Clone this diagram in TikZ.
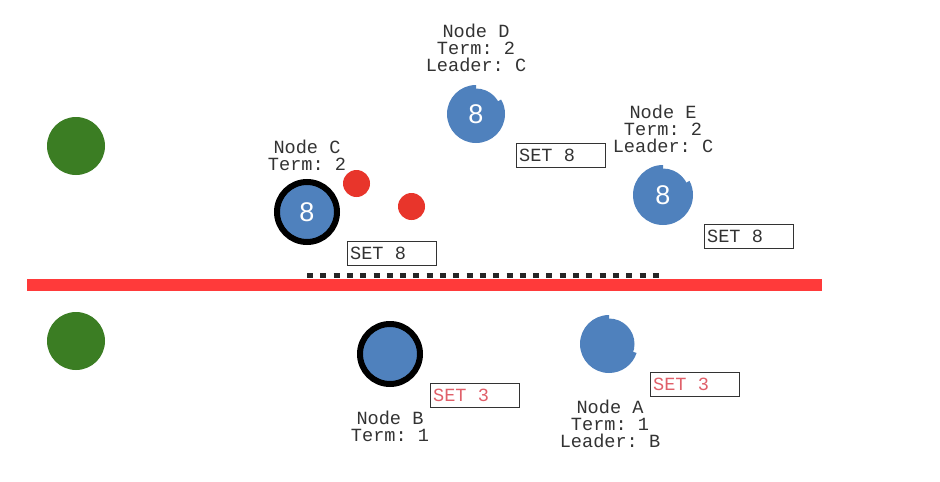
\documentclass[tikz,border=0pt]{standalone}
\usepackage{fontspec}
\setmainfont{Liberation Mono}
\newfontfamily\digitfont{Liberation Sans}
\definecolor{nodeblue}{HTML}{4F81BD}
\definecolor{nodegreen}{HTML}{3B7D23}
\definecolor{msgred}{HTML}{E8352B}
\definecolor{linered}{HTML}{FF3A3A}
\definecolor{setred}{HTML}{E0606A}
\begin{document}
\frenchspacing
\begin{tikzpicture}[x=1pt,y=1pt,
  lbl/.style={align=center,inner sep=0pt,text=black!80,font=\frenchspacing\fontsize{18.6}{17}\selectfont},
  setbox/.style={draw=black!80,line width=1.3pt,minimum width=89pt,minimum height=24pt,inner sep=2.5pt,anchor=north west,font=\frenchspacing\fontsize{18.6}{17}\selectfont,text=black!80},
  redset/.style={setbox,text=setred},
  leaderc/.style={circle,fill=nodeblue,draw=black,line width=6pt,minimum size=60pt,inner sep=0pt,text=white,font=\digitfont\fontsize{27}{27}\selectfont},
  follower/.style={circle,fill=nodeblue,minimum size=52pt,inner sep=0pt,text=white,font=\digitfont\fontsize{27}{27}\selectfont},
  greendot/.style={circle,fill=nodegreen,minimum size=58pt,inner sep=0pt},
  reddot/.style={circle,fill=msgred,minimum size=27pt,inner sep=0pt}]
\useasboundingbox[fill=white] (0,0) rectangle (940,-482);

% green clients
\node[greendot] (g1) at (76,-146) {};
\node[greendot] (g2) at (76,-341) {};

% partition line
\coordinate (ds) at (307,-275.5);
\coordinate (de) at (660,-275.5);
\draw[black!85,line width=5.6pt,dash pattern=on 6pt off 7.3pt] (ds) -- (de);
\coordinate (rs) at (27,-285);
\coordinate (re) at (822,-285);
\draw[linered,line width=11.5pt] (rs) -- (re);

% Node D (notched)
\coordinate (Dc) at (476,-114);
\fill[nodeblue] (Dc) -- ++(90:29) arc[start angle=90,end angle=390,radius=29] -- cycle;
\node[follower,minimum size=51pt] (D) at (Dc) {8};
\node[lbl] (Dl) at (476,-48) {Node D\\Term: 2\\Leader: C};
\node[setbox] (Ds) at (516,-143) {\makebox[84pt][l]{SET 8}};

% Node E (notched)
\coordinate (Ec) at (663,-195);
\fill[nodeblue] (Ec) -- ++(90:30) arc[start angle=90,end angle=388,radius=30] -- cycle;
\node[follower,minimum size=53pt] (E) at (Ec) {8};
\node[lbl] (El) at (663,-129) {Node E\\Term: 2\\Leader: C};
\node[setbox] (Es) at (704,-224) {\makebox[84pt][l]{SET 8}};

% Node C (leader)
\node[leaderc] (C) at (307,-212) {8};
\node[lbl] (Cl) at (307,-155.5) {Node C\\Term: 2};
\node[setbox] (Cs) at (347,-241) {\makebox[84pt][l]{SET 8}};
\node[reddot] (m1) at (356.5,-183.5) {};
\node[reddot] (m2) at (411.5,-206.5) {};

% Node B (old leader)
\node[leaderc] (B) at (390,-354) {};
\node[lbl] (Bl) at (390,-426.5) {Node B\\Term: 1};
\node[redset] (Bs) at (430,-383) {\makebox[84pt][l]{SET 3}};

% Node A (notched)
\coordinate (Ac) at (609,-344);
\fill[nodeblue] (Ac) -- ++(90:29) arc[start angle=90,end angle=342,radius=29] -- cycle;
\node[follower,minimum size=51pt] (A) at (Ac) {};
\node[lbl] (Al) at (610,-424) {Node A\\Term: 1\\Leader: B};
\node[redset] (As) at (650,-372) {\makebox[84pt][l]{SET 3}};
\end{tikzpicture}
\end{document}
